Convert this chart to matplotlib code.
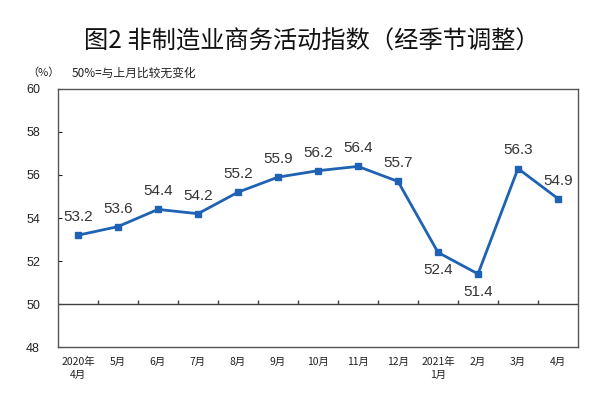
import numpy as np
import matplotlib
matplotlib.use('Agg')
import matplotlib.pyplot as plt

plt.rcParams['font.family'] = ['Noto Sans CJK SC', 'DejaVu Sans']

# 数据
months = ['2020年\n4月', '5月', '6月', '7月', '8月', '9月', '10月', '11月',
          '12月', '2021年\n1月', '2月', '3月', '4月']
values = [53.2, 53.6, 54.4, 54.2, 55.2, 55.9, 56.2, 56.4, 55.7, 52.4, 51.4, 56.3, 54.9]
below = [False, False, False, False, False, False, False, False, False, True, True, False, False]
y_ticks = [48, 50, 52, 54, 56, 58, 60]

fig = plt.figure(figsize=(6.11, 3.95), dpi=100)
ax = fig.add_axes([0.0949, 0.1215, 0.8511, 0.6532])

x = np.arange(len(values))
line_color = '#1f62b3'
ax.plot(x, values, color=line_color, linewidth=2, marker='s', markersize=5,
        zorder=3)

for xi, v, b in zip(x, values, below):
    off = -13 if b else 13
    ax.annotate(f'{v:.1f}', (xi, v), xytext=(0, off), textcoords='offset points',
                ha='center', va='center', fontsize=11, color='#333333',
                family=['Liberation Sans', 'DejaVu Sans'])

# 50线和刻度
ax.axhline(50, color='#404040', linewidth=1, zorder=2)
ax.vlines(x[:-1] + 0.5, 50, 50.2, color='#404040', linewidth=1)

ax.set_xlim(-0.5, len(values) - 0.5)
ax.set_ylim(48, 60)
ax.set_yticks(y_ticks)
ax.set_yticklabels([str(t) for t in y_ticks], family=['Liberation Sans', 'DejaVu Sans'])
ax.set_xticks(x)
ax.set_xticklabels(months, fontsize=7.5, linespacing=1.45)
ax.tick_params(axis='x', length=0, pad=7, colors='#222222')
ax.tick_params(axis='y', direction='in', length=3, pad=13, labelsize=9,
               colors='#222222')
for s in ax.spines.values():
    s.set_color('#555555')
    s.set_linewidth(1)

fig.text(0.51, 0.895, '图2 非制造业商务活动指数（经季节调整）', ha='center', va='center',
         fontsize=17.5, fontweight='medium', color='#111111')
fig.text(0.044, 0.815, '（%）', ha='left', va='center', fontsize=8, color='#222222')
fig.text(0.118, 0.815, '50%=与上月比较无变化', ha='left', va='center', fontsize=8.5,
         color='#222222')

fig.savefig('out.png', dpi=100)
